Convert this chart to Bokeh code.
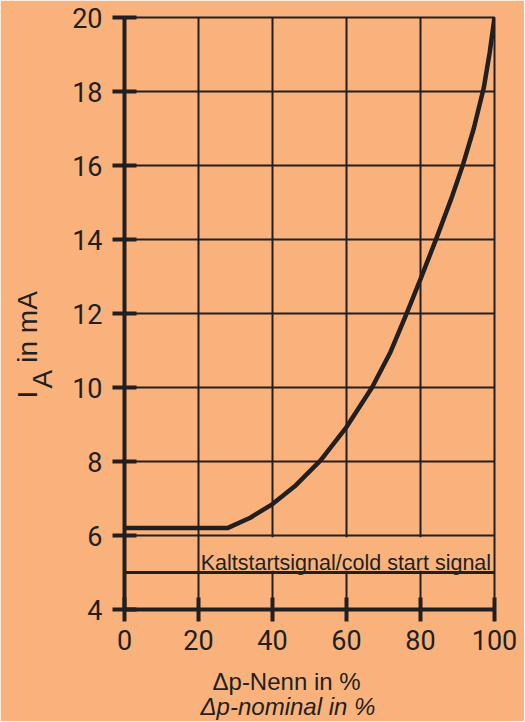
from bokeh.plotting import figure
from bokeh.models import FixedTicker, Title
from bokeh.core.properties import value
from bokeh.embed import file_html
from bokeh.resources import INLINE

# ---- data ----
x_curve = [0, 27.8, 34, 40, 46, 53, 60, 66.9, 71.9, 76.1, 80, 84.3, 88.6, 91.5, 94.4, 97.1, 98.7, 100]
y_curve = [6.2, 6.2, 6.48, 6.85, 7.33, 8.03, 8.93, 10.0, 10.96, 11.96, 12.93, 14.03, 15.18, 16.03, 17.0, 18.1, 19.05, 20.0]
x_ticks = [0, 20, 40, 60, 80, 100]
y_ticks = [4, 6, 8, 10, 12, 14, 16, 18, 20]
cold_level = 5
cold_text = "Kaltstartsignal/cold start signal"

BG = "#F9B27B"
INK = "#231F20"

p = figure(frame_width=370, frame_height=592, x_range=(0, 100), y_range=(4, 20),
           output_backend="svg", toolbar_location=None,
           min_border_left=124, min_border_right=30, min_border_top=17, min_border_bottom=112,
           background_fill_color=BG, border_fill_color=BG)
p.outline_line_color = INK
p.outline_line_width = 2

for ax, ticks in ((p.xaxis, x_ticks), (p.yaxis, y_ticks)):
    ax.ticker = FixedTicker(ticks=ticks)
    ax.axis_line_color = INK
    ax.axis_line_width = 4
    ax.major_tick_line_color = INK
    ax.major_tick_line_width = 4
    ax.major_tick_in = 12
    ax.major_tick_out = 12
    ax.minor_tick_line_color = None
    ax.major_label_text_font = "Roboto"
    ax.major_label_text_font_size = "27px"
    ax.major_label_text_color = INK
p.xaxis.major_label_standoff = 8
p.yaxis.major_label_standoff = 10

p.xgrid.ticker = FixedTicker(ticks=x_ticks)
p.ygrid.ticker = FixedTicker(ticks=y_ticks)
for g in (p.xgrid, p.ygrid):
    g.grid_line_color = INK
    g.grid_line_width = 2
    g.grid_line_alpha = 1

# box behind cold-start text hiding grid lines
p.quad(left=[21], right=[99.6], bottom=[cold_level + 0.05], top=[cold_level + 0.95],
       fill_color=BG, line_color=None)
p.line([0, 100], [cold_level, cold_level], line_color=INK, line_width=3)
p.text(x=[20.6], y=[cold_level + 0.27], text=[cold_text], text_font=value("Liberation Sans"),
       text_font_size="21.5px", text_color=INK, text_baseline="alphabetic", text_align="left")

p.line(x_curve, y_curve, line_color=INK, line_width=4.5, line_join="round")

# y axis title: I_A in mA (subscript as its own title, closer to the axis)
p.add_layout(Title(text="A", text_font="Liberation Sans", text_font_size="28px",
                   text_font_style="normal", text_color=INK, align="left", offset=221,
                   standoff=24), "left")
p.add_layout(Title(text="I\u2002\u2002in mA", text_font="Liberation Sans", text_font_size="28px",
                   text_font_style="normal", text_color=INK, align="left", offset=211,
                   standoff=-60), "left")

# x axis title (two lines)
p.add_layout(Title(text="\u0394p-Nenn in %", text_font="Liberation Sans", text_font_size="24px",
                   text_font_style="normal", text_color=INK, align="left", offset=88,
                   standoff=27), "below")
p.add_layout(Title(text="\u0394p-nominal in %", text_font="Liberation Sans", text_font_size="24px",
                   text_font_style="italic", text_color=INK, align="left", offset=76,
                   vertical_align="top", standoff=-31), "below")

html = file_html(p, INLINE)
html = html.replace("<body>", '<body style="margin:0;background:%s;">' % BG, 1)
open("out.html", "w").write(html)
